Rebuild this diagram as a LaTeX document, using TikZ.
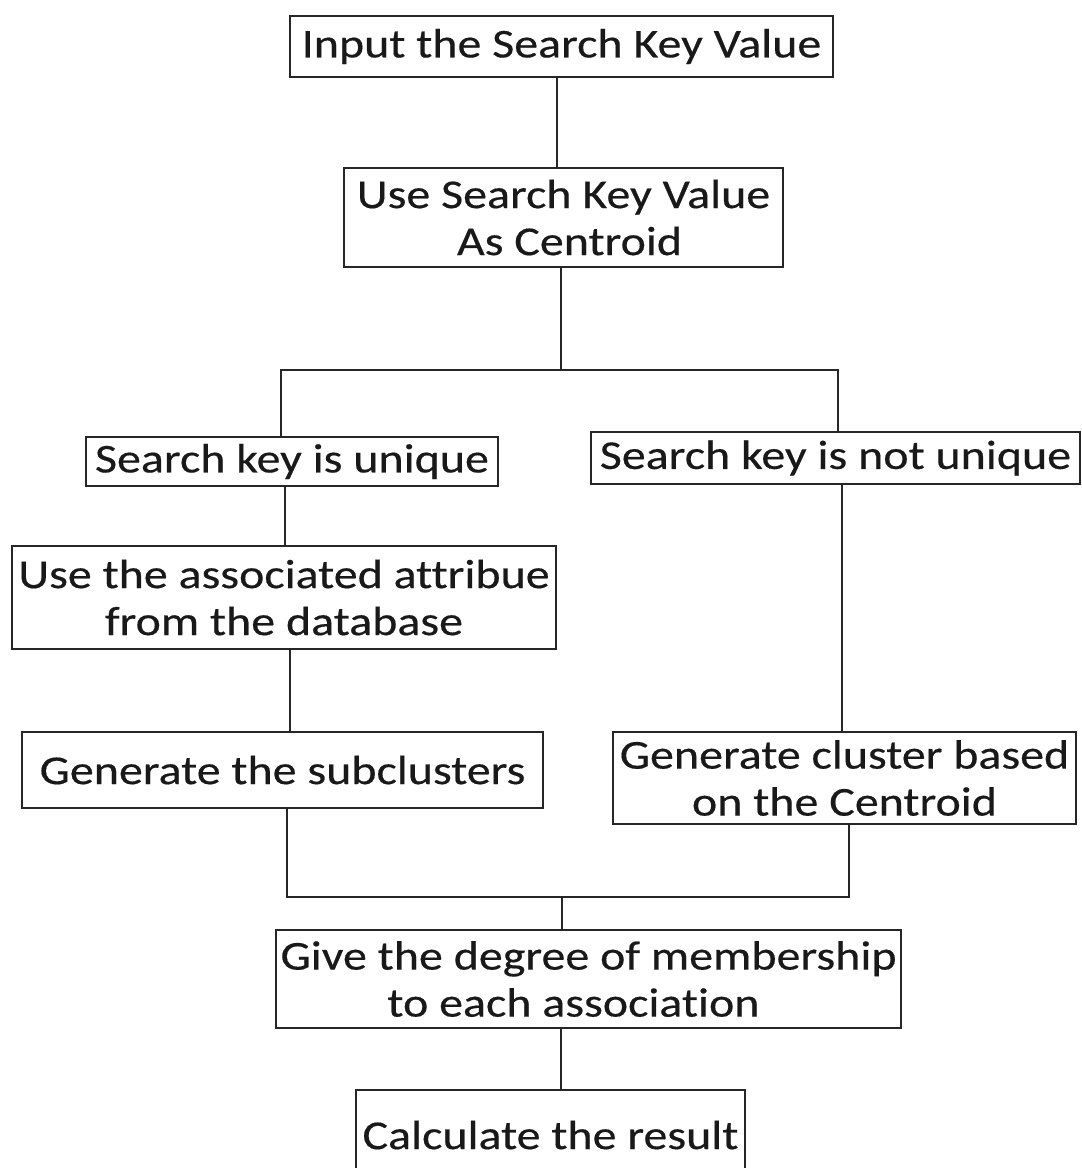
\documentclass[tikz,border=0pt]{standalone}
\usepackage{fontspec}
\setmainfont{Carlito}[FakeStretch=1.17, Ligatures={NoCommon}, FakeBold=0.4]
\tikzset{
  box/.style={draw=black!85, line width=1.6pt, rectangle, inner sep=0pt, align=center,
    font=\fontsize{41}{47}\selectfont, text=black!90},
  conn/.style={draw=black!85, line width=1.6pt}
}
\begin{document}
\begin{tikzpicture}[x=1pt,y=-1pt]
\useasboundingbox (0,0) rectangle (1082,1168);
\fill[white] (0,0) rectangle (1082,1168);
\clip (0,0) rectangle (1082,1168);
% boxes (centre x, centre y, width, height)
\node[box, minimum width=543pt, minimum height=61pt] (b1) at (561.5,46.5) {Input the Search Key Value};
\node[box, minimum width=439pt, minimum height=99pt] (b2) at (563.5,217.5) {Use Search Key Value\\\hspace*{12pt}As Centroid};
\node[box, minimum width=412pt, minimum height=49pt] (b3) at (292,461.5) {Search key is unique};
\node[box, minimum width=489pt, minimum height=52pt] (b4) at (835.5,458) {Search key is not unique};
\node[box, minimum width=544pt, minimum height=103pt] (b5) at (284,597.5) {Use the associated attribue\\from the database};
\node[box, minimum width=521pt, minimum height=76pt] (b6) at (282.5,770) {Generate the subclusters};
\node[box, minimum width=463pt, minimum height=92pt] (b7) at (844.5,778) {Generate cluster based\\on the Centroid};
\node[box, minimum width=625pt, minimum height=98pt] (b8) at (588.5,979) {Give the degree of membership\\\hspace*{-30pt}to each association};
\node[box, minimum width=389pt, minimum height=84pt] (b9) at (550.5,1132) {};
\node[font=\fontsize{41}{47}\selectfont, text=black!90, inner sep=0pt] (t9) at (b9.center |- 0,1135) {Calculate the result};
% connector coordinates
\coordinate (x1) at (557,0);
\coordinate (j1) at (561,370);
\coordinate (jl) at (281,370);
\coordinate (jr) at (838,370);
\coordinate (x3) at (285,0);
\coordinate (x5) at (290,0);
\coordinate (x4) at (842,0);
\coordinate (ml) at (287,897);
\coordinate (mr) at (849,897);
\coordinate (mc) at (562,897);
\coordinate (x8) at (561,0);
% connectors
\draw[conn] (b1.south -| x1) -- (b2.north -| x1);
\draw[conn] (b2.south -| j1) -- (j1);
\draw[conn] (b3.north -| jl) -- (jl) -- (jr) -- (b4.north -| jr);
\draw[conn] (b3.south -| x3) -- (b5.north -| x3);
\draw[conn] (b5.south -| x5) -- (b6.north -| x5);
\draw[conn] (b4.south -| x4) -- (b7.north -| x4);
\draw[conn] (b6.south -| ml) -- (ml) -- (mr) -- (b7.south -| mr);
\draw[conn] (mc) -- (b8.north -| mc);
\draw[conn] (b8.south -| x8) -- (b9.north -| x8);
\end{tikzpicture}
\end{document}
